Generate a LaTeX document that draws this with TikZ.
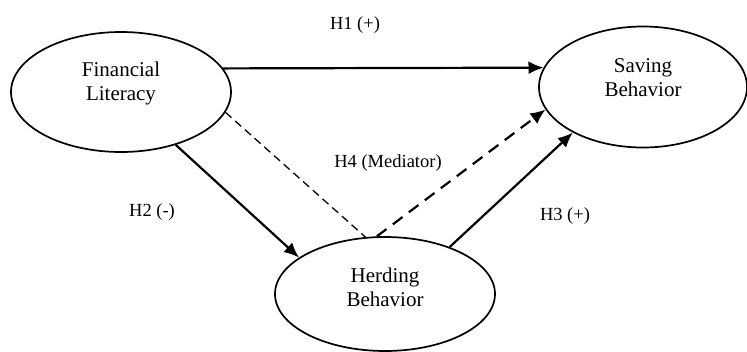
\documentclass[tikz,border=0pt]{standalone}
\usepackage{fontspec}
\setmainfont{Liberation Serif}
\usetikzlibrary{shapes.geometric, positioning, arrows.meta}

\tikzset{
	latent/.style={ellipse, draw, line width=1.7pt, inner sep=0pt, align=center,
		font=\fontsize{21}{24}\selectfont},
	hyp/.style={font=\fontsize{18.5}{22}\selectfont, inner sep=0pt},
	path/.style={line width=2.2pt, -{Latex[length=15pt,width=13pt]}},
	mediated/.style={path, dash pattern=on 12pt off 8pt},
	indirect/.style={line width=1.3pt, dash pattern=on 8pt off 5pt}
}

\begin{document}
\begin{tikzpicture}[x=1pt, y=-1pt]
	\useasboundingbox (0,0) rectangle (747,351);

	\node[latent, minimum width=220pt, minimum height=120pt, text depth=22pt] (fl) at (121,92) {Financial\\Literacy};
	\node[latent, minimum width=208pt, minimum height=121pt, text depth=19pt] (sb) at (643,87) {Saving\\Behavior};
	\node[latent, minimum width=220pt, minimum height=114pt, text depth=13pt] (hb) at (385,294) {Herding\\Behavior};

	\node[hyp] (h1) at (355,25) {H1 (+)};
	\node[hyp] (h2) at (152,212) {H2 (-)};
	\node[hyp] (h3) at (565,216) {H3 (+)};
	\node[hyp] (h4) at (388,163) {H4 (Mediator)};

	\draw
		(fl.13) edge[path] (sb.169)
		(fl.-44) edge[path] (hb.157)
		(hb.36) edge[path] (sb.213)
		(fl.-11) edge[indirect] (hb.109)
		(hb.98) edge[mediated] (sb.193)
		;
\end{tikzpicture}
\end{document}
